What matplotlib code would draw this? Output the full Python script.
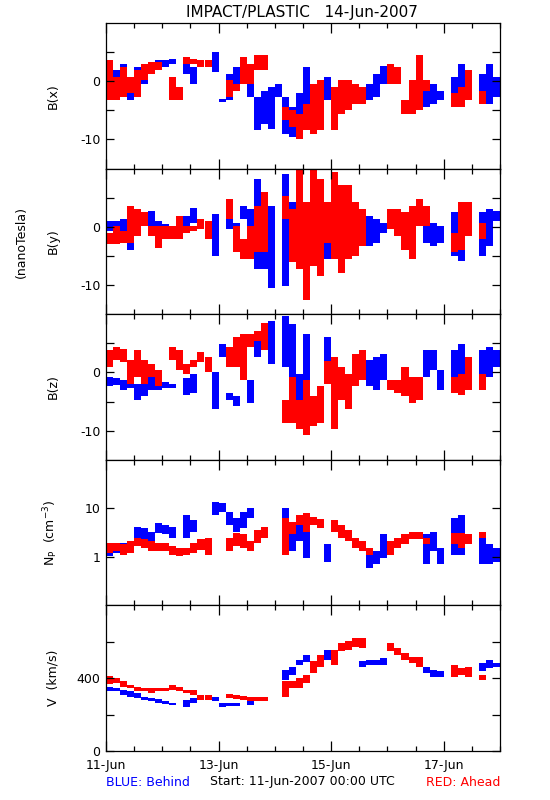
import numpy as np
import matplotlib
matplotlib.use('Agg')
import matplotlib.pyplot as plt
from matplotlib.ticker import FixedLocator, NullLocator

# 3-hour bins, start hour since 11-Jun-2007 00:00 UTC; lo/hi = range of the points in the bin
BIN_HOURS = 3

bx_blue_t = [0, 3, 6, 9, 12, 15, 18, 21, 24, 27, 33, 36, 45, 48, 51, 54, 60, 63, 66, 69, 72, 75, 78, 81, 84,
             93, 108, 111, 114, 117, 135, 138, 141, 147, 150, 159, 162, 165]
bx_blue_lo = [1.5, -1, -2.5, -3.2, -2.5, -0.5, 1.6, 2.2, 2.5, 3, 1.3, -0.4, 1.6, -3.6, -3.3, -1, -2.7, -8.4,
              -7.3, -8.2, -2.7, -9, -9.6, -6.7, -6.7, -3.3, -3.3, -3.3, -2.7, -0.4, -4.4, -3.9, -3.3, -4.4,
              -4.4, -1.6, -3.9, -2.7]
bx_blue_hi = [3, 2, 3, 0.5, 2.5, 3, 3.3, 3.6, 3.6, 3.9, 3.6, 2.5, 5, -3, 1.3, 2.5, 2.5, -2.7, -1.6, -1, -0.4,
              -2.7, -4.4, -2, 2.5, 0.7, -1.6, -0.4, 1.3, 2.7, -1, -0.4, -1.6, 0.7, 3, 1.3, 3, 0.7]
bx_red_t = [0, 3, 6, 9, 12, 15, 18, 21, 27, 30, 33, 36, 39, 42, 51, 54, 57, 60, 63, 66, 75, 78, 81, 84, 87,
            90, 96, 99, 102, 105, 108, 120, 123, 126, 129, 132, 135, 147, 150, 153, 159]
bx_red_lo = [-3.3, -3.3, -2.7, -2.1, -2.7, 0.2, 1.3, 1.9, -3.3, -3.3, 3, 3, 2.5, 2.5, -2.7, -1.6, -0.4, -0.4,
             1.9, 1.9, -6.7, -7.9, -10, -8.4, -9, -8.4, -8.4, -5.6, -5, -3.9, -3.9, -0.4, -0.4, -5.6, -5.6,
             -5, -1.6, -4.4, -4.4, -3.3, -3.9]
bx_red_hi = [3.6, 0.7, 2.5, 0.7, 1.9, 3, 3.3, 3.3, 0.7, -1, 4.2, 3.9, 3.6, 3.6, 0.2, -0.4, 4.2, 3, 4.5, 4.5,
             -4.4, -5, -5.6, -3.9, -0.4, 0.2, -1, 0.2, 0.2, -0.4, -1, 3, 2.5, -3.3, 0.2, 4.5, 0.2, -2, -1,
             1.9, -1.6]

by_blue_t = [0, 3, 6, 9, 12, 15, 18, 21, 24, 27, 33, 36, 45, 51, 54, 57, 60, 63, 66, 69, 75, 78, 81, 84, 93,
             108, 111, 114, 117, 135, 138, 141, 147, 150, 159, 162, 165]
by_blue_lo = [-0.7, -1.6, -1, -3.9, -1.6, 0.2, 0.2, -1.3, -1.8, -2.1, 0.2, 0.7, -5, -0.4, -1, 1.3, -1, -7.3,
              -7.3, -10.5, -10.2, -1.6, -5.6, -7.9, -5.6, -3.3, -3.3, -2.7, -1, -2.7, -3.3, -2.7, -5, -5.9,
              -5, -3.3, 1]
by_blue_hi = [1, 1, 1.3, 0.2, 1.3, 2.5, 2.8, 1, 0.5, -0.7, 1.9, 3.3, 2.2, 1.3, 0.7, 3.6, 3, 8.2, 1.3, 3.6, 9,
              4.2, 3, 4.2, 4.2, 1.3, 1.9, 1.3, 0.7, 1, 0.7, 0.2, 2.5, 3, 2.5, 3, 2.8]
by_red_t = [0, 3, 6, 9, 12, 15, 18, 21, 24, 27, 30, 33, 36, 39, 42, 51, 54, 57, 60, 63, 66, 75, 78, 81, 84,
            87, 90, 93, 96, 99, 102, 105, 108, 120, 123, 126, 129, 132, 135, 147, 150, 153, 159]
by_red_lo = [-3, -3, -2.7, -2.7, -1.6, 0.2, -1.6, -3.6, -2.1, -2.1, -2.1, -1, -0.7, -0.4, -2.1, 1.3, -4.4,
             -5.6, -5.6, -4.4, -4.4, 1.3, -6.1, -7.3, -12.5, -6.7, -8.4, -2.7, -5.6, -7.9, -5.6, -5, -3.3,
             -0.4, -1.6, -3.9, -5.6, 0.2, 0.2, -4.4, -3.9, -1.6, -2.1]
by_red_hi = [-1, 0.2, -0.7, 3.6, 3, 2.5, 0.2, 0.2, 0.2, 0.2, 1.9, 0.2, 0.2, 1.3, 1, 4.8, 0.2, -2.1, 0.2, 3.6,
             5.9, 5.3, 3, 9.9, 4.2, 9.9, 8.2, 4.2, 9.4, 7.1, 7.1, 4.2, 3, 3, 3, 2.5, 3.6, 4.8, 3.6, -1, 4.2,
             4.2, 0.7]

bz_blue_t = [0, 3, 6, 9, 12, 15, 18, 21, 24, 27, 33, 36, 45, 48, 51, 54, 60, 63, 66, 69, 75, 78, 81, 84, 93,
             108, 111, 114, 117, 135, 138, 141, 147, 150, 159, 162, 165]
bz_blue_lo = [-2.4, -2.1, -3, -2.7, -4.7, -4.1, -3, -3, -2.7, -2.7, -3.8, -3.5, -6.3, 2.6, -4.7, -5.8, -5.2,
              2.6, 3.8, 1.5, 1, -6.3, -4.7, -5.8, -0.7, -0.7, -2.4, -3, -1.3, -0.7, 0.4, -3, -0.7, -0.2,
              -1.9, -0.7, 1]
bz_blue_hi = [-0.7, -1, -1.3, -0.4, -1.9, 0.4, -0.2, -1.3, -1.6, -1.9, -1, -0.2, 0.1, 4.9, -3.5, -4.1, -1.3,
              7.1, 7.1, 8.8, 9.7, 8.3, -0.2, 6.6, 6, 1, 2.1, 2.6, 3.2, 3.8, 3.8, 0.4, 3.8, 4.9, 3.8, 4.3, 3.8]
bz_red_t = [0, 3, 6, 9, 12, 15, 18, 21, 27, 30, 33, 36, 39, 42, 51, 54, 57, 60, 63, 66, 75, 78, 81, 84, 87,
            90, 93, 96, 99, 102, 105, 108, 120, 123, 126, 129, 132, 147, 150, 153, 159]
bz_red_lo = [1, 2.1, 1.8, -1.9, -0.7, -1.9, -0.7, -2.4, 2.1, 0.4, -0.2, 1, 1.8, 0.1, 1, 1, -1.3, 4.3, 5.4,
             3.8, -8.6, -8.6, -9.7, -10.8, -9.2, -8.6, -2, -9.7, -4.7, -6.3, -2.4, -1.3, -3, -3.5, -4.1,
             -5.2, -4.7, -3.5, -3.8, -3, -3]
bz_red_hi = [3.8, 4.3, 4, 2.1, 3.8, 2.1, 1.5, 0.4, 4.3, 3.8, 1.5, 2.1, 3.5, 2.6, 4.3, 6, 6.6, 6.6, 7.1, 8.5,
             -4.7, -0.7, -4.7, -1.3, -4.1, -2.4, 2, 2.6, 1, -0.2, 3.2, 3.8, -1.3, -1.3, 1, -0.7, -0.7, -0.7,
             -0.2, 2.6, -0.2]

np_blue_t = [0, 3, 6, 9, 12, 15, 18, 21, 24, 27, 33, 36, 45, 48, 51, 54, 57, 60, 75, 78, 81, 84, 93, 111,
             114, 117, 135, 138, 141, 147, 150, 159, 162, 165]
np_blue_lo = [1.03, 1.2, 1.1, 1.3, 2.4, 2.1, 1.8, 3.1, 2.9, 2.4, 2.4, 3.3, 7.3, 8.5, 4.6, 3.3, 3.9, 6.2, 2.1,
              1.3, 2.1, 0.95, 0.8, 0.6, 0.7, 0.95, 0.7, 1.3, 0.7, 1.1, 1.1, 0.7, 0.7, 0.8]
np_blue_hi = [1.8, 1.8, 1.9, 2.1, 4.2, 3.9, 3.3, 4.9, 4.6, 4.2, 7.3, 5.8, 13.7, 13, 8.5, 6.2, 8.5, 10, 10,
              3.9, 6.2, 3.3, 1.8, 1.3, 1.3, 2.9, 2.9, 3.3, 1.5, 6.2, 7.3, 2.4, 1.8, 1.5]
np_red_t = [0, 3, 6, 9, 12, 15, 18, 21, 24, 27, 30, 33, 36, 39, 42, 51, 54, 57, 60, 63, 66, 75, 78, 81, 84,
            87, 90, 96, 99, 102, 105, 108, 111, 120, 123, 126, 129, 132, 135, 147, 150, 153, 159]
np_red_lo = [1.2, 1.3, 1.1, 1.2, 1.65, 1.5, 1.3, 1.3, 1.3, 1.1, 1.03, 1.1, 1.2, 1.4, 1.1, 1.3, 1.65, 1.5,
             1.3, 1.9, 2.4, 1.1, 2.9, 4.6, 3.3, 4.6, 3.9, 3.3, 2.4, 2.1, 1.5, 1.3, 1.1, 1.1, 1.5, 1.8, 2.3,
             2.3, 1.8, 1.8, 1.5, 1.8, 2.4]
np_red_hi = [1.9, 1.9, 1.8, 2.1, 2.4, 2.3, 2.1, 1.9, 1.9, 1.65, 1.5, 1.5, 1.9, 2.3, 2.4, 2.4, 3.1, 2.9, 2.1,
             3.6, 4.2, 6.2, 5.3, 7.3, 7.9, 6.7, 6, 5.8, 4.6, 3.6, 2.4, 2.1, 1.5, 2.1, 2.4, 2.9, 3.3, 3.3,
             2.4, 3.1, 3.1, 2.9, 3.3]

v_blue_t = [0, 3, 6, 9, 12, 15, 18, 21, 24, 27, 33, 36, 45, 48, 51, 54, 60, 75, 78, 81, 84, 93, 108, 111,
            114, 117, 135, 138, 141, 147, 150, 159, 162, 165]
v_blue_lo = [330, 327, 308, 299, 290, 281, 272, 266, 259, 253, 244, 262, 272, 244, 248, 248, 253, 391, 420,
             470, 490, 501, 464, 470, 470, 475, 428, 409, 405, 418, 418, 437, 455, 464]
v_blue_hi = [350, 345, 336, 327, 317, 299, 290, 284, 272, 266, 281, 290, 299, 262, 266, 266, 272, 445, 464,
             500, 530, 556, 495, 500, 500, 510, 464, 446, 437, 446, 446, 483, 501, 483]
v_red_t = [0, 3, 6, 9, 12, 15, 18, 21, 24, 27, 30, 33, 36, 39, 42, 51, 54, 57, 60, 63, 66, 75, 78, 81, 84,
           87, 90, 96, 99, 102, 105, 108, 120, 123, 126, 129, 132, 147, 150, 153, 159]
v_red_lo = [370, 372, 354, 345, 327, 327, 321, 327, 327, 336, 327, 317, 308, 281, 281, 290, 284, 281, 277,
            277, 277, 299, 345, 345, 372, 428, 464, 473, 547, 556, 574, 565, 547, 528, 501, 483, 464, 409,
            418, 409, 391]
v_red_hi = [410, 400, 382, 363, 354, 345, 345, 345, 345, 363, 354, 336, 336, 308, 308, 312, 308, 303, 295,
            299, 299, 382, 382, 400, 418, 492, 528, 556, 593, 602, 620, 620, 593, 565, 538, 519, 519, 473,
            455, 464, 418]

day_ticks = [0, 48, 96, 144]
day_labels = ['11-Jun', '13-Jun', '15-Jun', '17-Jun']

panels = [
    ('B(x)', (bx_blue_t, bx_blue_lo, bx_blue_hi), (bx_red_t, bx_red_lo, bx_red_hi),
     (-15, 10), [-10, -5, 0, 5], ['-10', '', '0', ''], False),
    ('B(y)', (by_blue_t, by_blue_lo, by_blue_hi), (by_red_t, by_red_lo, by_red_hi),
     (-15, 10), [-10, -5, 0, 5], ['-10', '', '0', ''], False),
    ('B(z)', (bz_blue_t, bz_blue_lo, bz_blue_hi), (bz_red_t, bz_red_lo, bz_red_hi),
     (-15, 10), [-10, -5, 0, 5], ['-10', '', '0', ''], False),
    (r'N$_{\rm P}$  (cm$^{-3}$)', (np_blue_t, np_blue_lo, np_blue_hi), (np_red_t, np_red_lo, np_red_hi),
     (0.1, 100), [1, 10], ['1', '10'], True),
    ('V  (km/s)', (v_blue_t, v_blue_lo, v_blue_hi), (v_red_t, v_red_lo, v_red_hi),
     (0, 800), [0, 200, 400, 600], ['0', '', '400', ''], False),
]


def draw_bins(ax, series, color):
    # each 3-hour bin is a filled block spanning the range of the measurements
    t, lo, hi = (np.asarray(a, dtype=float) for a in series)
    ax.bar(t, hi - lo, bottom=lo, width=BIN_HOURS, align='edge', color=color, linewidth=0)


fig = plt.figure(figsize=(5.5, 8), dpi=100)
axes = fig.subplots(5, 1, sharex=True, gridspec_kw={'hspace': 0})
fig.subplots_adjust(left=106 / 550, right=500 / 550, top=1 - 23 / 800, bottom=1 - 751 / 800)

for ax, (label, blue, red, ylim, yticks, ylabels, logy) in zip(axes, panels):
    if logy:
        ax.set_yscale('log')
    draw_bins(ax, blue, 'blue')
    draw_bins(ax, red, 'red')
    ax.set_ylim(*ylim)
    ax.set_xlim(0, 168)
    ax.yaxis.set_major_locator(FixedLocator(yticks))
    ax.set_yticklabels(ylabels)
    ax.yaxis.set_minor_locator(NullLocator())
    ax.xaxis.set_major_locator(FixedLocator(day_ticks))
    ax.xaxis.set_minor_locator(FixedLocator(np.arange(0, 169, 12)))
    ax.tick_params(axis='both', which='both', direction='in', right=True, top=True,
                   labelsize=9, width=0.9, color='black')
    ax.tick_params(axis='y', which='major', length=6, pad=4)
    ax.tick_params(axis='x', which='major', length=7, pad=6)
    ax.tick_params(axis='x', which='minor', length=3.5)
    ax.set_ylabel(label, fontsize=9)
    ax.yaxis.set_label_coords(-0.117, 0.5)
    for s in ax.spines.values():
        s.set_linewidth(0.9)

axes[-1].set_xticklabels(day_labels)

fig.text(302 / 550, 1 - 12 / 800, 'IMPACT/PLASTIC   14-Jun-2007', ha='center', va='center', fontsize=11)
fig.text(21 / 550, 1 - 242 / 800, '(nanoTesla)', ha='center', va='center', rotation=90, fontsize=9)
fig.text(106 / 550, 1 - 783 / 800, 'BLUE: Behind', color='blue', ha='left', va='center', fontsize=9)
fig.text(302 / 550, 1 - 781 / 800, 'Start: 11-Jun-2007 00:00 UTC', ha='center', va='center', fontsize=9)
fig.text(500 / 550, 1 - 783 / 800, 'RED: Ahead', color='red', ha='right', va='center', fontsize=9)

fig.savefig('out.png', dpi=100, facecolor='white')
